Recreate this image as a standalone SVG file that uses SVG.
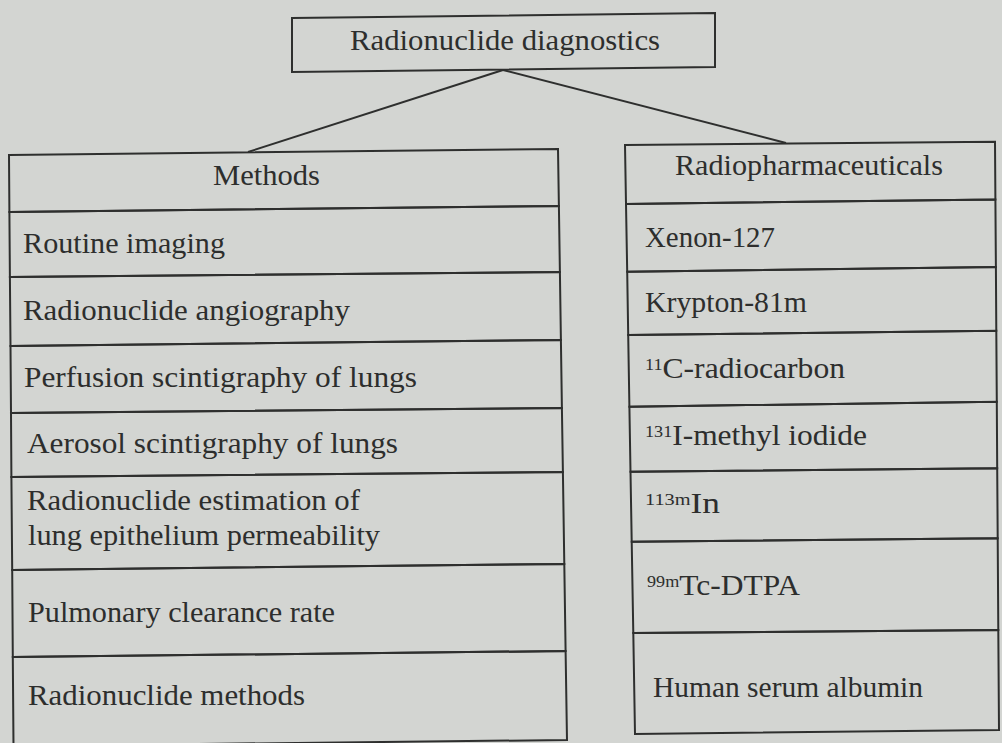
<svg xmlns="http://www.w3.org/2000/svg" width="1002" height="743" viewBox="0 0 1002 743">
<style>
.bx{fill:none;stroke:#2e2f2e;stroke-width:2;stroke-linejoin:miter}
.cn{fill:none;stroke:#2e2f2e;stroke-width:2}
.t{font-family:"Liberation Serif","Times New Roman",serif;font-size:29.5px;fill:#2d2e2d}
.sup{font-size:17px}
</style>
<rect x="0" y="0" width="1002" height="743" fill="#d3d5d2"/>
<g id="connectors">
<line class="cn" x1="503" y1="70" x2="248" y2="152"/>
<line class="cn" x1="503" y1="70" x2="786" y2="143"/>
</g>
<g id="root">
<polygon class="bx" points="292,18 715,13 715,67 292,72"/>
<text class="t" x="350" y="50" textLength="310" lengthAdjust="spacingAndGlyphs">Radionuclide diagnostics</text>
</g>
<g id="methods">
<g id="m-header"><polygon class="bx" points="9,155 558,149 558.9,206 9.4,212"/><text class="t" x="213" y="185" textLength="107" lengthAdjust="spacingAndGlyphs">Methods</text></g>
<g id="m1"><polygon class="bx" points="9.4,212 558.9,206 559.9,272 9.9,277"/><text class="t" x="23" y="253" textLength="202" lengthAdjust="spacingAndGlyphs">Routine imaging</text></g>
<g id="m2"><polygon class="bx" points="9.9,277 559.9,272 560.9,340 10.5,346"/><text class="t" x="23" y="320" textLength="327" lengthAdjust="spacingAndGlyphs">Radionuclide angiography</text></g>
<g id="m3"><polygon class="bx" points="10.5,346 560.9,340 561.9,408 11,413"/><text class="t" x="24" y="387" textLength="393" lengthAdjust="spacingAndGlyphs">Perfusion scintigraphy of lungs</text></g>
<g id="m4"><polygon class="bx" points="11,413 561.9,408 562.9,472 11.4,477"/><text class="t" x="27" y="453" textLength="371" lengthAdjust="spacingAndGlyphs">Aerosol scintigraphy of lungs</text></g>
<g id="m5"><polygon class="bx" points="11.4,477 562.9,472 564.3,564 12.2,570"/><text class="t" x="27" y="510" textLength="333" lengthAdjust="spacingAndGlyphs">Radionuclide estimation of</text><text class="t" x="28" y="545" textLength="352" lengthAdjust="spacingAndGlyphs">lung epithelium permeability</text></g>
<g id="m6"><polygon class="bx" points="12.2,570 564.3,564 565.6,651 12.8,657"/><text class="t" x="28" y="622" textLength="307" lengthAdjust="spacingAndGlyphs">Pulmonary clearance rate</text></g>
<g id="m7"><polygon class="bx" points="12.8,657 565.6,651 567,740 13.5,746"/><text class="t" x="28" y="705" textLength="277" lengthAdjust="spacingAndGlyphs">Radionuclide methods</text></g>
</g>
<g id="radiopharmaceuticals">
<g id="r-header"><polygon class="bx" points="625,145 995,141.7 995.4,199.5 626,204"/><text class="t" x="675" y="175" textLength="268" lengthAdjust="spacingAndGlyphs">Radiopharmaceuticals</text></g>
<g id="r1"><polygon class="bx" points="626,204 995.4,199.5 995.9,267 627.2,271.7"/><text class="t" x="645" y="247" textLength="130" lengthAdjust="spacingAndGlyphs">Xenon-127</text></g>
<g id="r2"><polygon class="bx" points="627.2,271.7 995.9,267 996.3,330.7 628.2,335"/><text class="t" x="645" y="312" textLength="162" lengthAdjust="spacingAndGlyphs">Krypton-81m</text></g>
<g id="r3"><polygon class="bx" points="628.2,335 996.3,330.7 996.8,401.7 629.4,406.7"/><text class="t" x="645" y="378" textLength="200" lengthAdjust="spacingAndGlyphs"><tspan class="sup" dy="-8">11</tspan><tspan dy="8">C-radiocarbon</tspan></text></g>
<g id="r4"><polygon class="bx" points="629.4,406.7 996.8,401.7 997.2,468.3 630.5,471.7"/><text class="t" x="645" y="445" textLength="222" lengthAdjust="spacingAndGlyphs"><tspan class="sup" dy="-8">131</tspan><tspan dy="8">I-methyl iodide</tspan></text></g>
<g id="r5"><polygon class="bx" points="630.5,471.7 997.2,468.3 997.7,538.3 631.7,541.7"/><text class="t" x="645" y="513" textLength="75" lengthAdjust="spacingAndGlyphs"><tspan class="sup" dy="-8">113m</tspan><tspan dy="8">In</tspan></text></g>
<g id="r6"><polygon class="bx" points="631.7,541.7 997.7,538.3 998.3,630 633.3,633"/><text class="t" x="647" y="595" textLength="153" lengthAdjust="spacingAndGlyphs"><tspan class="sup" dy="-8">99m</tspan><tspan dy="8">Tc-DTPA</tspan></text></g>
<g id="r7"><polygon class="bx" points="633.3,633 998.3,630 999,730 635,734"/><text class="t" x="653" y="697" textLength="270" lengthAdjust="spacingAndGlyphs">Human serum albumin</text></g>
</g>
</svg>
